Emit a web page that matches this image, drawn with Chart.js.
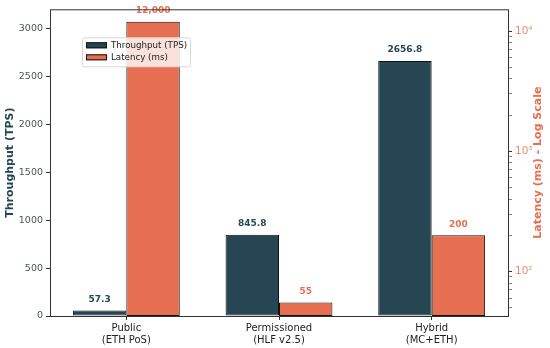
<!DOCTYPE html>
<html>
<head>
<meta charset="utf-8">
<script src="https://cdn.jsdelivr.net/npm/chart.js@4.4.0/dist/chart.umd.min.js"></script>
<style>
  html, body { margin: 0; padding: 0; background: #fff; }
  #wrap { width: 550px; height: 348px; position: relative; }
</style>
</head>
<body>
<div id="wrap"><canvas id="chart"></canvas></div>
<script>
// 数据
const categories = [['Public', '(ETH PoS)'], ['Permissioned', '(HLF v2.5)'], ['Hybrid', '(MC+ETH)']];
const throughput = [57.3, 845.8, 2656.8];
const latency = [12000, 55, 200];
const throughputLabels = ['57.3', '845.8', '2656.8'];
const latencyLabels = ['12,000', '55', '200'];
const leftTicks = [0, 500, 1000, 1500, 2000, 2500, 3000];
const rightTicks = [50, 60, 70, 80, 90, 100, 200, 300, 400, 500, 600, 700, 800, 900,
                    1000, 2000, 3000, 4000, 5000, 6000, 7000, 8000, 9000, 10000];

const DARK = '#264653';
const ORANGE = '#E76F51';
const FONT = "'DejaVu Sans', sans-serif";

const sup = { '2': '²', '3': '³', '4': '⁴' };

// 数值标签、图例、边框、右侧标题
const decorPlugin = {
    id: 'decor',
    afterDatasetsDraw(chart) {
        const ctx = chart.ctx;
        const area = chart.chartArea;
        ctx.save();
        ctx.font = 'bold 9px ' + FONT;
        ctx.textAlign = 'center';
        ctx.textBaseline = 'middle';
        [[0, throughputLabels, DARK], [1, latencyLabels, ORANGE]].forEach(([di, labels, color]) => {
            chart.getDatasetMeta(di).data.forEach((bar, i) => {
                ctx.fillStyle = color;
                ctx.fillText(labels[i], bar.x, bar.y - 11);
            });
        });

        // 图例
        const lx = area.left + 32, ly = area.top + 28;
        ctx.fillStyle = 'rgba(255,255,255,0.8)';
        ctx.strokeStyle = '#d8d8d8';
        ctx.lineWidth = 1;
        ctx.beginPath();
        ctx.roundRect(lx + 0.5, ly + 0.5, 108, 29, 2);
        ctx.fill();
        ctx.stroke();
        const items = [['Throughput (TPS)', DARK], ['Latency (ms)', ORANGE]];
        ctx.font = '8.7px ' + FONT;
        ctx.textAlign = 'left';
        items.forEach(([txt, color], i) => {
            const y = ly + 8 + i * 12;
            ctx.fillStyle = color;
            ctx.fillRect(lx + 4, y - 3, 21, 6);
            ctx.strokeStyle = '#111';
            ctx.strokeRect(lx + 4.5, y - 2.5, 20, 5);
            ctx.fillStyle = '#222';
            ctx.fillText(txt, lx + 29, y + 0.5);
        });

        // 边框
        ctx.strokeStyle = '#333';
        ctx.lineWidth = 1;
        ctx.strokeRect(area.left + 0.5, area.top + 0.5, area.right - area.left, area.bottom - area.top);

        // 右侧标题
        ctx.translate(538, (area.top + area.bottom) / 2);
        ctx.rotate(-Math.PI / 2);
        ctx.font = 'bold 11px ' + FONT;
        ctx.textAlign = 'center';
        ctx.fillStyle = ORANGE;
        ctx.fillText('Latency (ms) - Log Scale', 0, 0);
        ctx.restore();
    }
};

new Chart(document.getElementById('chart'), {
    type: 'bar',
    data: {
        labels: categories,
        datasets: [{
            label: 'Throughput (TPS)',
            data: throughput,
            backgroundColor: DARK,
            borderColor: '#111',
            borderWidth: 1,
            borderSkipped: false,
            yAxisID: 'y',
            categoryPercentage: 0.7,
            barPercentage: 1
        }, {
            label: 'Latency (ms)',
            data: latency,
            backgroundColor: ORANGE,
            borderColor: '#111',
            borderWidth: 1,
            borderSkipped: false,
            yAxisID: 'y1',
            categoryPercentage: 0.7,
            barPercentage: 1
        }]
    },
    options: {
        responsive: true,
        maintainAspectRatio: false,
        animation: false,
        layout: { padding: { top: 7, left: 0, right: 0, bottom: 0 } },
        plugins: {
            legend: { display: false },
            tooltip: { enabled: false }
        },
        scales: {
            x: {
                afterFit: s => { s.height = 32; },
                grid: { display: true, drawOnChartArea: false, offset: false, tickLength: 4, color: '#333' },
                border: { display: false },
                ticks: { color: '#222', font: { family: FONT, size: 10 }, padding: 2, maxRotation: 0 }
            },
            y: {
                position: 'left',
                min: 0,
                max: 3197,
                afterBuildTicks: s => { s.ticks = leftTicks.map(v => ({ value: v })); },
                afterFit: s => { s.width = 50; },
                grid: { drawOnChartArea: false, tickLength: 4, color: '#333' },
                border: { display: false },
                ticks: { color: '#44555c', font: { family: FONT, size: 9.5 }, padding: 3, callback: v => String(v) },
                title: { display: true, text: 'Throughput (TPS)', color: DARK, font: { family: FONT, size: 11, weight: 'bold' }, padding: { top: 4, bottom: 0 } }
            },
            y1: {
                type: 'logarithmic',
                position: 'right',
                min: 42.5,
                max: 15200,
                afterBuildTicks: s => { s.ticks = rightTicks.map(v => ({ value: v })); },
                afterFit: s => { s.width = 42; },
                grid: {
                    drawOnChartArea: false,
                    tickLength: 4,
                    color: '#333',
                    tickWidth: c => (Math.log10(c.tick.value) % 1 === 0 ? 1 : 0.6)
                },
                border: { display: false },
                ticks: {
                    color: 'rgba(231,111,81,0.8)',
                    font: { family: FONT, size: 10.5 },
                    padding: 3,
                    autoSkip: false,
                    callback: v => {
                        const p = Math.log10(v);
                        return Math.abs(p - Math.round(p)) < 1e-9 ? '10' + sup[String(Math.round(p))] : '';
                    }
                }
            }
        }
    },
    plugins: [decorPlugin]
});
</script>
</body>
</html>
